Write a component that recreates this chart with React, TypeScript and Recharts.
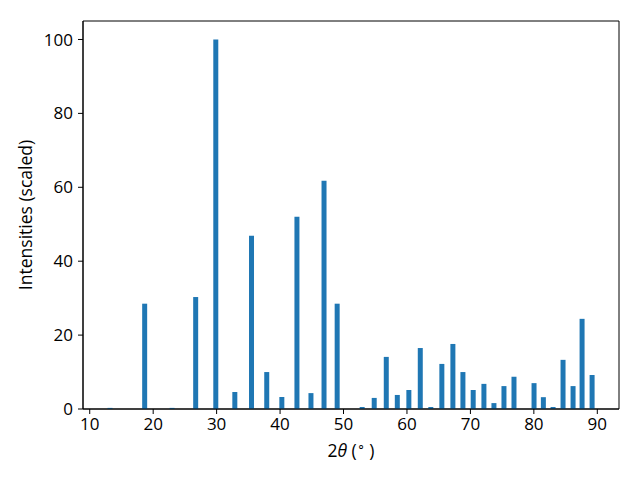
import { BarChart, Bar, XAxis, YAxis, ReferenceArea } from "recharts";

// peak positions (2θ, degrees) and scaled intensities
const twoTheta = [
  13.2, 18.66, 22.98, 26.7, 29.87, 32.87, 35.5, 37.9, 40.28, 42.66, 44.87,
  46.93, 49.0, 52.94, 54.84, 56.74, 58.48, 60.3, 62.1, 63.76, 65.5, 67.24,
  68.82, 70.44, 72.13, 73.71, 75.29, 76.87, 80.03, 81.5, 83.03, 84.6, 86.18,
  87.6, 89.18,
];
const intensity = [
  0.3, 28.5, 0.3, 30.3, 100, 4.6, 46.9, 10.0, 3.25, 52.0, 4.3, 61.8, 28.5,
  0.54, 3.0, 14.1, 3.8, 5.15, 16.5, 0.54, 12.2, 17.6, 10.0, 5.15, 6.8, 1.6,
  6.2, 8.7, 7.0, 3.2, 0.54, 13.3, 6.2, 24.4, 9.2,
];
const xTicks = [10, 20, 30, 40, 50, 60, 70, 80, 90];
const yTicks = [0, 20, 40, 60, 80, 100];

const xDomain: [number, number] = [8.94, 93.42];
const yDomain: [number, number] = [0, 105];

const data = twoTheta.map((x, i) => ({ x, y: intensity[i] }));

const font = "'Open Sans', sans-serif";
const fontSize = 17;

const XLabel = (props: any) => {
  const vb = props.viewBox || {};
  const cx = vb.x + vb.width / 2;
  return (
    <text x={cx} y={457} textAnchor="middle" fill="#000" fontSize={fontSize + 0.5} fontFamily={font}>
      2<tspan fontStyle="italic">θ</tspan> (
      <tspan fontSize={13} dy={-7}>∘</tspan>
      <tspan dy={7}> )</tspan>
    </text>
  );
};

const YLabel = (props: any) => {
  const vb = props.viewBox || {};
  const cy = vb.y + vb.height / 2;
  return (
    <text
      x={25}
      y={cy}
      transform={`rotate(-90, 25, ${cy})`}
      textAnchor="middle"
      dominantBaseline="central"
      fill="#000"
      fontSize={fontSize + 0.5}
      fontFamily={font}
    >
      Intensities (scaled)
    </text>
  );
};

export default function App() {
  return (
    <div style={{ position: "absolute", left: 0, top: 0, width: 640, height: 480, background: "#fff", fontFamily: font }}>
      <BarChart
        width={640}
        height={480}
        data={data}
        margin={{ top: 21, right: 21, bottom: 0, left: 0 }}
      >
        <XAxis
          dataKey="x"
          type="number"
          domain={xDomain}
          ticks={xTicks}
          allowDataOverflow
          height={71}
          tickSize={5}
          tickMargin={4}
          axisLine={{ stroke: "#000", strokeWidth: 1 }}
          tickLine={{ stroke: "#000", strokeWidth: 1 }}
          tick={{ fill: "#000", fontSize, fontFamily: font }}
          label={<XLabel />}
        />
        <YAxis
          type="number"
          domain={yDomain}
          ticks={yTicks}
          allowDataOverflow
          width={83}
          tickSize={5}
          tickMargin={5}
          axisLine={{ stroke: "#000", strokeWidth: 1 }}
          tickLine={{ stroke: "#000", strokeWidth: 1 }}
          tick={{ fill: "#000", fontSize, fontFamily: font }}
          label={<YLabel />}
        />
        <Bar dataKey="y" fill="#1f77b4" barSize={5} isAnimationActive={false} />
        <ReferenceArea
          x1={xDomain[0]}
          x2={xDomain[1]}
          y1={yDomain[0]}
          y2={yDomain[1]}
          fill="none"
          fillOpacity={0}
          stroke="#000"
          strokeWidth={1}
        />
      </BarChart>
    </div>
  );
}
